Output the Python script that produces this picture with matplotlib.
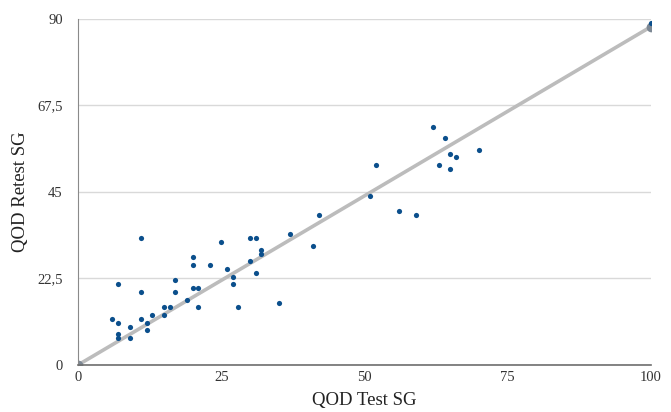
import matplotlib
matplotlib.use("Agg")
import matplotlib.pyplot as plt

# QOD test vs retest standard gamble scores
test_sg = [6, 7, 7, 7, 7, 9, 9, 11, 11, 11, 12, 12, 13, 15, 15, 16, 17, 17, 19,
           20, 20, 20, 21, 21, 23, 25, 26, 27, 27, 28, 30, 30, 31, 31, 32, 32,
           35, 37, 41, 42, 51, 52, 56, 59, 62, 63, 64, 65, 65, 66, 70, 100]
retest_sg = [12, 21, 11, 8, 7, 10, 7, 33, 19, 12, 11, 9, 13, 15, 13, 15, 22, 19, 17,
             28, 26, 20, 20, 15, 26, 32, 25, 23, 21, 15, 33, 27, 33, 24, 30, 29,
             16, 34, 31, 39, 44, 52, 40, 39, 62, 52, 59, 55, 51, 54, 56, 89]

# reference line
line_x = [0, 100]
line_y = [0, 88]

y_ticks = [0, 22.5, 45, 67.5, 90]
y_labels = ["0", "22,5", "45", "67,5", "90"]
x_ticks = [0, 25, 50, 75, 100]

plt.rcParams["font.family"] = ["Liberation Serif", "DejaVu Serif"]

fig = plt.figure(figsize=(6.71, 4.12), dpi=100)
ax = fig.add_axes([0.1162, 0.1141, 0.854, 0.8398])

ax.plot(line_x, line_y, color="#bcbcbc", linewidth=2.6, zorder=2,
        marker="o", markersize=6, markerfacecolor="#7d8894", markeredgecolor="#7d8894",
        solid_capstyle="round")
ax.scatter(test_sg, retest_sg, s=14, color="#0b4f8c", zorder=3, linewidths=0)

ax.set_xlim(0, 100)
ax.set_ylim(0, 90)
ax.set_xticks(x_ticks)
ax.set_yticks(y_ticks)
ax.set_yticklabels(y_labels)
ax.grid(axis="y", color="#d9d9d9", linewidth=1)
ax.set_axisbelow(True)

for s in ["top", "right"]:
    ax.spines[s].set_visible(False)
ax.spines["left"].set_color("#8a8a8a")
ax.spines["bottom"].set_color("#6e6e6e")
ax.spines["bottom"].set_linewidth(1.2)

ax.tick_params(axis="y", length=0, pad=11, labelsize=10.5, colors="#333333")
ax.tick_params(axis="x", length=0, pad=4, labelsize=10.5, colors="#333333")

ax.set_xlabel("QOD Test SG", fontsize=13.5, labelpad=6, color="#222222")
ax.set_ylabel("QOD Retest SG", fontsize=13.5, labelpad=6, color="#222222")

fig.savefig("out.png", dpi=100)
